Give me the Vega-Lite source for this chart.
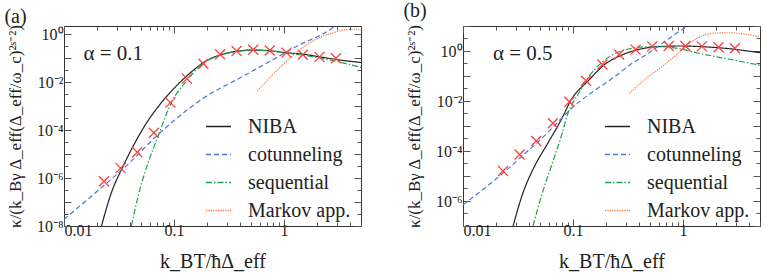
{
  "$schema": "https://vega.github.io/schema/vega-lite/v6.json",
  "padding": {"left": 3, "top": 0, "right": 1, "bottom": 0},
  "spacing": 40,
  "datasets": {
    "curves": [
      {"p":"a","s":"NIBA","x":0.0219,"y":1e-8},
      {"p":"a","s":"NIBA","x":0.0269,"y":2.4e-7},
      {"p":"a","s":"NIBA","x":0.0344,"y":3.1e-6},
      {"p":"a","s":"NIBA","x":0.0424,"y":2.1e-5},
      {"p":"a","s":"NIBA","x":0.0541,"y":1.5e-4},
      {"p":"a","s":"NIBA","x":0.0767,"y":1.4e-3},
      {"p":"a","s":"NIBA","x":0.1086,"y":8.1e-3},
      {"p":"a","s":"NIBA","x":0.1538,"y":0.0347},
      {"p":"a","s":"NIBA","x":0.1897,"y":0.0708},
      {"p":"a","s":"NIBA","x":0.2655,"y":0.138},
      {"p":"a","s":"NIBA","x":0.3707,"y":0.195},
      {"p":"a","s":"NIBA","x":0.526,"y":0.219},
      {"p":"a","s":"NIBA","x":0.746,"y":0.204},
      {"p":"a","s":"NIBA","x":1.042,"y":0.17},
      {"p":"a","s":"NIBA","x":1.52,"y":0.145},
      {"p":"a","s":"NIBA","x":2.15,"y":0.112},
      {"p":"a","s":"NIBA","x":3.05,"y":0.087},
      {"p":"a","s":"NIBA","x":5.0,"y":0.066},
      {"p":"a","s":"cotunneling","x":0.01,"y":1.9e-8},
      {"p":"a","s":"cotunneling","x":0.02,"y":2.8e-7},
      {"p":"a","s":"cotunneling","x":0.0398,"y":4.5e-6},
      {"p":"a","s":"cotunneling","x":0.0658,"y":4.5e-5},
      {"p":"a","s":"cotunneling","x":0.1,"y":2.5e-4},
      {"p":"a","s":"cotunneling","x":0.1875,"y":2.24e-3},
      {"p":"a","s":"cotunneling","x":0.3767,"y":0.0132},
      {"p":"a","s":"cotunneling","x":0.7586,"y":0.0776},
      {"p":"a","s":"cotunneling","x":1.318,"y":0.324},
      {"p":"a","s":"cotunneling","x":2.655,"y":1.62},
      {"p":"a","s":"cotunneling","x":2.95,"y":2.3},
      {"p":"a","s":"sequential","x":0.041,"y":1e-8},
      {"p":"a","s":"sequential","x":0.0471,"y":1.74e-7},
      {"p":"a","s":"sequential","x":0.0581,"y":4.3e-6},
      {"p":"a","s":"sequential","x":0.0716,"y":5.6e-5},
      {"p":"a","s":"sequential","x":0.0944,"y":1.38e-3},
      {"p":"a","s":"sequential","x":0.134,"y":0.0132},
      {"p":"a","s":"sequential","x":0.177,"y":0.055},
      {"p":"a","s":"sequential","x":0.2655,"y":0.132},
      {"p":"a","s":"sequential","x":0.3707,"y":0.19},
      {"p":"a","s":"sequential","x":0.526,"y":0.214},
      {"p":"a","s":"sequential","x":0.746,"y":0.2},
      {"p":"a","s":"sequential","x":1.042,"y":0.162},
      {"p":"a","s":"sequential","x":1.52,"y":0.132},
      {"p":"a","s":"sequential","x":2.15,"y":0.1},
      {"p":"a","s":"sequential","x":3.05,"y":0.072},
      {"p":"a","s":"sequential","x":5.0,"y":0.041},
      {"p":"a","s":"Markov app.","x":0.571,"y":4.3e-3},
      {"p":"a","s":"Markov app.","x":0.931,"y":0.0437},
      {"p":"a","s":"Markov app.","x":1.321,"y":0.186},
      {"p":"a","s":"Markov app.","x":1.95,"y":0.617},
      {"p":"a","s":"Markov app.","x":2.85,"y":1.175},
      {"p":"a","s":"Markov app.","x":3.51,"y":1.51},
      {"p":"a","s":"Markov app.","x":4.33,"y":1.62},
      {"p":"a","s":"Markov app.","x":5.0,"y":1.51},
      {"p":"b","s":"NIBA","x":0.0285,"y":1e-7},
      {"p":"b","s":"NIBA","x":0.0351,"y":2.14e-6},
      {"p":"b","s":"NIBA","x":0.0448,"y":2.5e-5},
      {"p":"b","s":"NIBA","x":0.0593,"y":2.14e-4},
      {"p":"b","s":"NIBA","x":0.0783,"y":1.82e-3},
      {"p":"b","s":"NIBA","x":0.0966,"y":0.0115},
      {"p":"b","s":"NIBA","x":0.1368,"y":0.063},
      {"p":"b","s":"NIBA","x":0.1936,"y":0.288},
      {"p":"b","s":"NIBA","x":0.285,"y":0.724},
      {"p":"b","s":"NIBA","x":0.4036,"y":1.175},
      {"p":"b","s":"NIBA","x":0.5715,"y":1.48},
      {"p":"b","s":"NIBA","x":0.933,"y":1.585},
      {"p":"b","s":"NIBA","x":1.52,"y":1.48},
      {"p":"b","s":"NIBA","x":2.655,"y":1.23},
      {"p":"b","s":"NIBA","x":5.0,"y":0.85},
      {"p":"b","s":"cotunneling","x":0.01,"y":7e-7},
      {"p":"b","s":"cotunneling","x":0.0152,"y":2.9e-6},
      {"p":"b","s":"cotunneling","x":0.0243,"y":1.58e-5},
      {"p":"b","s":"cotunneling","x":0.0344,"y":6.3e-5},
      {"p":"b","s":"cotunneling","x":0.0486,"y":2.4e-4},
      {"p":"b","s":"cotunneling","x":0.069,"y":1.12e-3},
      {"p":"b","s":"cotunneling","x":0.0966,"y":5.0e-3},
      {"p":"b","s":"cotunneling","x":0.157,"y":0.0263},
      {"p":"b","s":"cotunneling","x":0.2312,"y":0.0851},
      {"p":"b","s":"cotunneling","x":0.3273,"y":0.275},
      {"p":"b","s":"cotunneling","x":0.4645,"y":0.724},
      {"p":"b","s":"cotunneling","x":0.6577,"y":2.14},
      {"p":"b","s":"cotunneling","x":0.933,"y":6.3},
      {"p":"b","s":"cotunneling","x":1.096,"y":10},
      {"p":"b","s":"sequential","x":0.0433,"y":1e-7},
      {"p":"b","s":"sequential","x":0.0515,"y":1.58e-6},
      {"p":"b","s":"sequential","x":0.0635,"y":2.5e-5},
      {"p":"b","s":"sequential","x":0.0783,"y":4e-4},
      {"p":"b","s":"sequential","x":0.0902,"y":3.4e-3},
      {"p":"b","s":"sequential","x":0.1109,"y":0.0182},
      {"p":"b","s":"sequential","x":0.1368,"y":0.0851},
      {"p":"b","s":"sequential","x":0.1807,"y":0.339},
      {"p":"b","s":"sequential","x":0.2312,"y":0.724},
      {"p":"b","s":"sequential","x":0.3273,"y":1.23},
      {"p":"b","s":"sequential","x":0.4645,"y":1.48},
      {"p":"b","s":"sequential","x":0.6577,"y":1.48},
      {"p":"b","s":"sequential","x":0.933,"y":1.23},
      {"p":"b","s":"sequential","x":1.321,"y":0.851},
      {"p":"b","s":"sequential","x":2.655,"y":0.468},
      {"p":"b","s":"sequential","x":5.0,"y":0.269},
      {"p":"b","s":"Markov app.","x":0.326,"y":0.0204},
      {"p":"b","s":"Markov app.","x":0.4613,"y":0.0794},
      {"p":"b","s":"Markov app.","x":0.6531,"y":0.251},
      {"p":"b","s":"Markov app.","x":0.9247,"y":0.891},
      {"p":"b","s":"Markov app.","x":1.312,"y":3.02},
      {"p":"b","s":"Markov app.","x":1.862,"y":5.13},
      {"p":"b","s":"Markov app.","x":2.63,"y":5.37},
      {"p":"b","s":"Markov app.","x":3.8,"y":4.57},
      {"p":"b","s":"Markov app.","x":5.0,"y":3.7}
    ],
    "pts": [
      {"p":"a","x":0.0231,"y":7.4e-7},
      {"p":"a","x":0.0327,"y":2.6e-6},
      {"p":"a","x":0.0463,"y":1.2e-5},
      {"p":"a","x":0.0655,"y":7.7e-5},
      {"p":"a","x":0.0926,"y":1.4e-3},
      {"p":"a","x":0.131,"y":0.014},
      {"p":"a","x":0.185,"y":0.059},
      {"p":"a","x":0.262,"y":0.145},
      {"p":"a","x":0.37,"y":0.2},
      {"p":"a","x":0.524,"y":0.225},
      {"p":"a","x":0.741,"y":0.21},
      {"p":"a","x":1.05,"y":0.17},
      {"p":"a","x":1.48,"y":0.14},
      {"p":"a","x":2.1,"y":0.113},
      {"p":"a","x":2.96,"y":0.1},
      {"p":"b","x":0.0231,"y":1.58e-5},
      {"p":"b","x":0.0327,"y":7.2e-5},
      {"p":"b","x":0.0463,"y":2.5e-4},
      {"p":"b","x":0.0655,"y":1.29e-3},
      {"p":"b","x":0.0926,"y":9.3e-3},
      {"p":"b","x":0.131,"y":0.0646},
      {"p":"b","x":0.185,"y":0.288},
      {"p":"b","x":0.262,"y":0.724},
      {"p":"b","x":0.37,"y":1.135},
      {"p":"b","x":0.524,"y":1.53},
      {"p":"b","x":0.741,"y":1.585},
      {"p":"b","x":1.05,"y":1.585},
      {"p":"b","x":1.48,"y":1.53},
      {"p":"b","x":2.1,"y":1.41},
      {"p":"b","x":2.96,"y":1.29}
    ],
    "ann": [
      {"p":"a","x":0.015,"y":0.155,"t":"α = 0.1"},
      {"p":"b","x":0.0187,"y":0.73,"t":"α = 0.5"}
    ]
  },
  "config": {
    "font": "Liberation Serif",
    "view": {"stroke": "#333333", "strokeWidth": 1},
    "axis": {
      "labelFont": "Liberation Serif", "labelFontSize": 16, "labelColor": "#222222",
      "titleFont": "Liberation Serif", "titleFontWeight": "normal", "titleFontSize": 17, "titleColor": "#222222",
      "grid": false, "domain": false, "tickColor": "#555555", "tickWidth": 1, "labelOverlap": false
    },
    "legend": {
      "labelFont": "Liberation Serif", "labelFontSize": 20, "labelColor": "#222222",
      "symbolType": "stroke", "symbolSize": 625, "symbolStrokeWidth": 1.3,
      "rowPadding": 4, "labelOffset": 16, "padding": 0, "title": null, "orient": "none",
      "legendX": 141, "legendY": 87, "labelLimit": 200
    },
    "title": {"anchor": "start", "fontSize": 20, "font": "Liberation Serif", "fontWeight": "normal", "color": "#222222", "offset": -3, "frame": "bounds", "dx": -2}
  },
  "resolve": {
    "scale": {"x": "independent", "y": "independent"},
    "legend": {"color": "independent", "strokeDash": "independent"}
  },
  "hconcat": [
    {
      "title": "(a)",
      "width": 297, "height": 200,
      "layer": [
        {
          "data": {"name": "curves"},
          "transform": [{"filter": "datum.p == 'a'"}],
          "mark": {"type": "line", "strokeWidth": 1.2, "clip": true, "interpolate": "monotone"},
          "encoding": {
            "x": {"field": "x", "type": "quantitative", "scale": {"type": "log", "domain": [0.01, 5], "nice": false},
              "axis": {"orient": "bottom", "title": "k_BT/ħΔ_eff", "titleFontSize": 20, "titlePadding": 10,
                "values": [0.01,0.02,0.03,0.04,0.05,0.06,0.07,0.08,0.09,0.1,0.2,0.3,0.4,0.5,0.6,0.7,0.8,0.9,1,2,3,4,5],
                "labelExpr": "datum.value == 0.01 ? '0.01' : datum.value == 0.1 ? '0.1' : datum.value == 1 ? '1' : ''",
                "tickSize": {"condition": {"test": "indexof([0.01,0.1,1], datum.value) >= 0", "value": -7}, "value": -4},
                "labelPadding": 3}},
            "y": {"field": "y", "type": "quantitative", "scale": {"type": "log", "domain": [1e-8, 2.2], "nice": false},
              "axis": {"orient": "left", "title": "κ/(k_Bγ Δ_eff(Δ_eff/ω_c)²ˢ⁻²)", "titlePadding": 12,
                "values": [1e-8,3.1623e-8,1e-7,3.1623e-7,1e-6,3.1623e-6,1e-5,3.1623e-5,1e-4,3.1623e-4,1e-3,3.1623e-3,1e-2,3.1623e-2,0.1,0.31623,1],
                "labelExpr": "abs(log(datum.value)/LN10 - round(log(datum.value)/LN10)) > 0.01 || round(log(datum.value)/LN10) % 2 != 0 ? '' : '10' + ['⁰','⁻²','⁻⁴','⁻⁶','⁻⁸'][-round(log(datum.value)/LN10)/2]",
                "tickSize": {"condition": {"test": "abs(log(datum.value)/LN10 - round(log(datum.value)/LN10)) < 0.01", "value": -7}, "value": -4},
                "labelPadding": 8}},
            "color": {"field": "s", "type": "nominal",
              "scale": {"domain": ["NIBA","cotunneling","sequential","Markov app."], "range": ["#222222","#4a78d6","#22a050","#ff7033"]}},
            "strokeDash": {"field": "s", "type": "nominal",
              "scale": {"domain": ["NIBA","cotunneling","sequential","Markov app."], "range": [[1,0],[5,3],[6,2,1.5,2],[1.2,1.2]]}}
          }
        },
        {
          "data": {"name": "pts"},
          "transform": [{"filter": "datum.p == 'a'"}],
          "mark": {"type": "point", "shape": "M-1,-1L1,1M1,-1L-1,1", "filled": false, "stroke": "#ff4040", "strokeWidth": 1.3, "size": 100, "opacity": 1},
          "encoding": {
            "x": {"field": "x", "type": "quantitative", "axis": null},
            "y": {"field": "y", "type": "quantitative", "axis": null}
          }
        },
        {
          "data": {"name": "ann"},
          "transform": [{"filter": "datum.p == 'a'"}],
          "mark": {"type": "text", "align": "left", "baseline": "middle", "fontSize": 21, "font": "Liberation Serif", "color": "#222222"},
          "encoding": {
            "x": {"field": "x", "type": "quantitative",
              "axis": {"orient": "top", "title": null, "labels": false, "labelPadding": 0,
                "values": [0.01,0.02,0.03,0.04,0.05,0.06,0.07,0.08,0.09,0.1,0.2,0.3,0.4,0.5,0.6,0.7,0.8,0.9,1,2,3,4,5],
                "tickSize": {"condition": {"test": "indexof([0.01,0.1,1], datum.value) >= 0", "value": -7}, "value": -4}}},
            "y": {"field": "y", "type": "quantitative",
              "axis": {"orient": "right", "title": null, "labels": false, "labelPadding": 0,
                "values": [1e-8,3.1623e-8,1e-7,3.1623e-7,1e-6,3.1623e-6,1e-5,3.1623e-5,1e-4,3.1623e-4,1e-3,3.1623e-3,1e-2,3.1623e-2,0.1,0.31623,1],
                "tickSize": {"condition": {"test": "abs(log(datum.value)/LN10 - round(log(datum.value)/LN10)) < 0.01", "value": -7}, "value": -4}}},
            "text": {"field": "t"}
          }
        }
      ],
      "resolve": {"axis": {"x": "independent", "y": "independent"}}
    },
    {
      "title": "(b)",
      "width": 297, "height": 200,
      "layer": [
        {
          "data": {"name": "curves"},
          "transform": [{"filter": "datum.p == 'b'"}],
          "mark": {"type": "line", "strokeWidth": 1.2, "clip": true, "interpolate": "monotone"},
          "encoding": {
            "x": {"field": "x", "type": "quantitative", "scale": {"type": "log", "domain": [0.01, 5], "nice": false},
              "axis": {"orient": "bottom", "title": "k_BT/ħΔ_eff", "titleFontSize": 20, "titlePadding": 10,
                "values": [0.01,0.02,0.03,0.04,0.05,0.06,0.07,0.08,0.09,0.1,0.2,0.3,0.4,0.5,0.6,0.7,0.8,0.9,1,2,3,4,5],
                "labelExpr": "datum.value == 0.01 ? '0.01' : datum.value == 0.1 ? '0.1' : datum.value == 1 ? '1' : ''",
                "tickSize": {"condition": {"test": "indexof([0.01,0.1,1], datum.value) >= 0", "value": -7}, "value": -4},
                "labelPadding": 3}},
            "y": {"field": "y", "type": "quantitative", "scale": {"type": "log", "domain": [1e-7, 10], "nice": false},
              "axis": {"orient": "left", "title": "κ/(k_Bγ Δ_eff(Δ_eff/ω_c)²ˢ⁻²)", "titlePadding": 12,
                "values": [1e-7,3.1623e-7,1e-6,3.1623e-6,1e-5,3.1623e-5,1e-4,3.1623e-4,1e-3,3.1623e-3,1e-2,3.1623e-2,0.1,0.31623,1,3.1623,10],
                "labelExpr": "abs(log(datum.value)/LN10 - round(log(datum.value)/LN10)) > 0.01 || round(log(datum.value)/LN10) % 2 != 0 || datum.value > 2 ? '' : '10' + ['⁰','⁻²','⁻⁴','⁻⁶','⁻⁸'][-round(log(datum.value)/LN10)/2]",
                "tickSize": {"condition": {"test": "abs(log(datum.value)/LN10 - round(log(datum.value)/LN10)) < 0.01", "value": -7}, "value": -4},
                "labelPadding": 8}},
            "color": {"field": "s", "type": "nominal",
              "scale": {"domain": ["NIBA","cotunneling","sequential","Markov app."], "range": ["#222222","#4a78d6","#22a050","#ff7033"]}},
            "strokeDash": {"field": "s", "type": "nominal",
              "scale": {"domain": ["NIBA","cotunneling","sequential","Markov app."], "range": [[1,0],[5,3],[6,2,1.5,2],[1.2,1.2]]}}
          }
        },
        {
          "data": {"name": "pts"},
          "transform": [{"filter": "datum.p == 'b'"}],
          "mark": {"type": "point", "shape": "M-1,-1L1,1M1,-1L-1,1", "filled": false, "stroke": "#ff4040", "strokeWidth": 1.3, "size": 100, "opacity": 1},
          "encoding": {
            "x": {"field": "x", "type": "quantitative", "axis": null},
            "y": {"field": "y", "type": "quantitative", "axis": null}
          }
        },
        {
          "data": {"name": "ann"},
          "transform": [{"filter": "datum.p == 'b'"}],
          "mark": {"type": "text", "align": "left", "baseline": "middle", "fontSize": 21, "font": "Liberation Serif", "color": "#222222"},
          "encoding": {
            "x": {"field": "x", "type": "quantitative",
              "axis": {"orient": "top", "title": null, "labels": false, "labelPadding": 0,
                "values": [0.01,0.02,0.03,0.04,0.05,0.06,0.07,0.08,0.09,0.1,0.2,0.3,0.4,0.5,0.6,0.7,0.8,0.9,1,2,3,4,5],
                "tickSize": {"condition": {"test": "indexof([0.01,0.1,1], datum.value) >= 0", "value": -7}, "value": -4}}},
            "y": {"field": "y", "type": "quantitative",
              "axis": {"orient": "right", "title": null, "labels": false, "labelPadding": 0,
                "values": [1e-7,3.1623e-7,1e-6,3.1623e-6,1e-5,3.1623e-5,1e-4,3.1623e-4,1e-3,3.1623e-3,1e-2,3.1623e-2,0.1,0.31623,1,3.1623,10],
                "tickSize": {"condition": {"test": "abs(log(datum.value)/LN10 - round(log(datum.value)/LN10)) < 0.01", "value": -7}, "value": -4}}},
            "text": {"field": "t"}
          }
        }
      ],
      "resolve": {"axis": {"x": "independent", "y": "independent"}}
    }
  ]
}
